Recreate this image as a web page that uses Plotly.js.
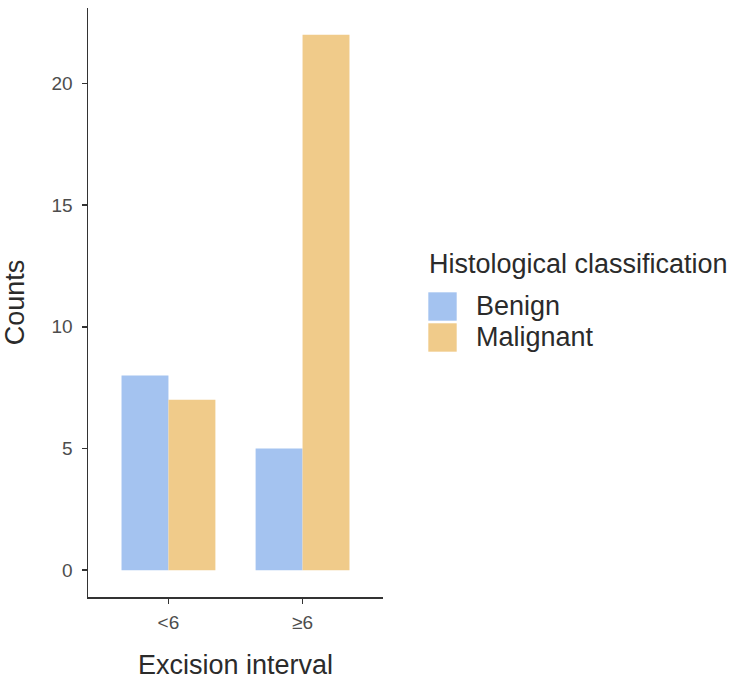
<!DOCTYPE html>
<html>
<head>
<meta charset="utf-8">
<script src="https://cdn.plot.ly/plotly-3.0.1.min.js"></script>
<style>
  body { margin: 0; background: #fff; }
  #chart { width: 750px; height: 682px; }
</style>
</head>
<body>
<div id="chart"></div>
<script>
const intervals = ['<6', '≥6']
const benign = [8, 5]
const malignant = [7, 22]
const groups = ['Benign', 'Malignant']
const colors = ['#A4C3F0', '#F0CB8A']
const legendTitle = 'Histological classification'

const font = 'Liberation Sans, Arial, sans-serif'
const titleColor = '#2b2b2b'

var data = [
    {
        type: 'bar',
        name: groups[0],
        x: intervals,
        y: benign,
        marker: { color: colors[0], line: { width: 0 } },
    },
    {
        type: 'bar',
        name: groups[1],
        x: intervals,
        y: malignant,
        marker: { color: colors[1], line: { width: 0 } },
    },
]

// ggplot-like legend with big square keys, placed to the right of the panel
let keyX0 = 1.1536, keyX1 = 1.2498, keyH = 0.0482, keyStep = 0.0526, keyTop = 0.5173
let legendShapes = groups.map(function (g, i) {
    return {
        type: 'rect', xref: 'paper', yref: 'paper',
        x0: keyX0, x1: keyX1,
        y0: keyTop - i * keyStep - keyH, y1: keyTop - i * keyStep,
        fillcolor: colors[i], line: { width: 0 },
    }
})
let legendLabels = groups.map(function (g, i) {
    return {
        xref: 'paper', yref: 'paper', showarrow: false,
        x: 1.308, xanchor: 'left',
        y: keyTop - i * keyStep - keyH / 2 + 0.001, yanchor: 'middle',
        text: g,
        font: { size: 27, color: titleColor },
    }
})
legendLabels.push({
    xref: 'paper', yref: 'paper', showarrow: false,
    x: 1.148, xanchor: 'left',
    y: 0.565, yanchor: 'middle',
    text: legendTitle,
    font: { size: 27, color: titleColor },
})

var layout = {
    width: 750,
    height: 682,
    margin: { l: 88, r: 367, t: 8, b: 85 },
    paper_bgcolor: '#fff',
    plot_bgcolor: '#fff',
    font: { family: font, color: '#4d4d4d' },
    barmode: 'group',
    bargap: 0.3,
    bargroupgap: 0,
    showlegend: false,
    xaxis: {
        type: 'category',
        range: [-0.6, 1.6],
        showline: true,
        linecolor: '#333',
        linewidth: 1.5,
        ticks: 'outside',
        ticklen: 5,
        tickwidth: 1.5,
        tickcolor: '#333',
        ticklabelstandoff: 3,
        showgrid: false,
        zeroline: false,
        tickfont: { size: 19, color: '#4d4d4d' },
        title: { text: 'Excision interval', font: { size: 27, color: titleColor }, standoff: 23 },
        automargin: false,
    },
    yaxis: {
        range: [-1.1, 23.1],
        tickvals: [0, 5, 10, 15, 20],
        showline: true,
        linecolor: '#333',
        linewidth: 1.5,
        ticks: 'outside',
        ticklen: 5,
        tickwidth: 1.5,
        tickcolor: '#333',
        ticklabelstandoff: 5,
        showgrid: false,
        zeroline: false,
        tickfont: { size: 19, color: '#4d4d4d' },
        title: { text: 'Counts', font: { size: 27, color: titleColor }, standoff: 24 },
        automargin: false,
    },
    shapes: legendShapes,
    annotations: legendLabels,
}

Plotly.newPlot('chart', data, layout, { displayModeBar: false, staticPlot: true })
</script>
</body>
</html>
